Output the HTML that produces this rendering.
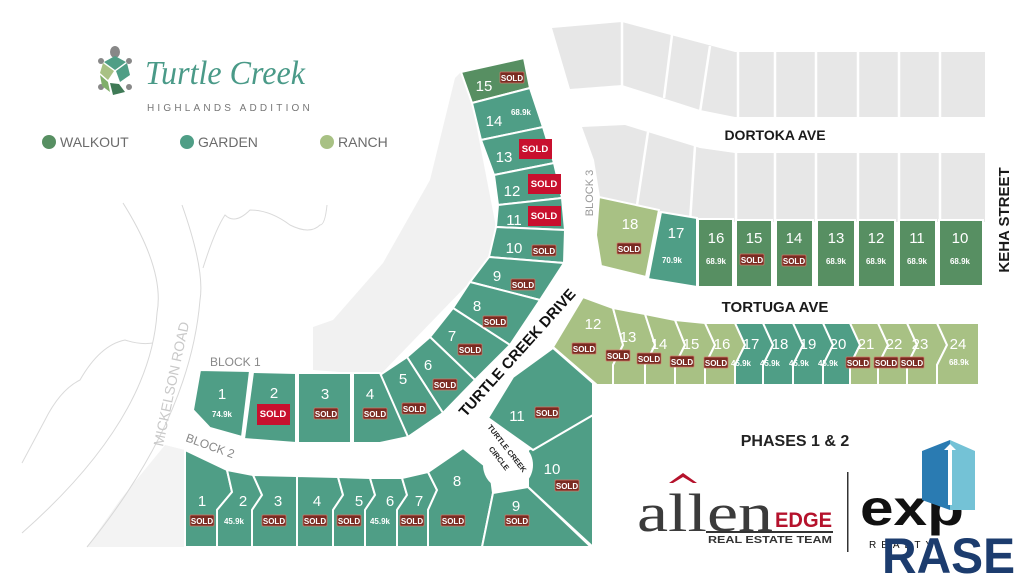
<!DOCTYPE html>
<html><head><meta charset="utf-8"><style>
html,body{margin:0;padding:0;background:#fff;}
svg{display:block;font-family:"Liberation Sans",sans-serif;}
.n{fill:#fff;font-size:15px;text-anchor:middle;}
.p{fill:#fff;font-size:8px;text-anchor:middle;font-weight:bold;}
.s{fill:#fff;font-size:8px;text-anchor:middle;font-weight:bold;}
.w{fill:#fff;font-size:9.5px;text-anchor:middle;font-weight:bold;}
.g{fill:#4f9e86;stroke:#fff;stroke-width:2;}
.k{fill:#578f62;stroke:#fff;stroke-width:2;}
.r{fill:#a8c184;stroke:#fff;stroke-width:2;}
</style></head><body>
<svg width="1024" height="580" viewBox="0 0 1024 580" xmlns="http://www.w3.org/2000/svg">
<defs>
<g id="sb"><rect x="-12" y="-6" width="24" height="11" rx="1" fill="#7a2b22" stroke="#d07a6a" stroke-width="0.7"/></g>
</defs>
<!-- background gray areas -->
<polygon points="455,78 461,72 472,103 496,227 489,257 470,282 380,375 313,370 313,327 333,320 383,263 430,180" fill="#f1f1f1"/>
<polygon points="87,547 185,547 185,450 165,445 120,500" fill="#f3f3f3"/>
<!-- mickelson lines -->
<path d="M123,203 Q165,270 157,313 Q150,420 22,533" fill="none" stroke="#d8d8d8" stroke-width="1"/>
<path d="M182,205 Q205,270 200,300 Q190,420 87,547" fill="none" stroke="#d8d8d8" stroke-width="1"/>
<path d="M203,268 Q215,230 225,215 Q235,225 250,210 Q270,210 290,225 Q310,235 320,225 Q325,225 327,205" fill="none" stroke="#dadada"/>
<path d="M153,343 Q140,345 125,340 Q100,345 80,380 Q60,390 45,420 L22,463" fill="none" stroke="#dadada"/>
<text x="0" y="0" transform="translate(176,385) rotate(-78)" fill="#c9c9c9" font-size="14" text-anchor="middle">MICKELSON ROAD</text>

<!-- gray top lots -->
<polygon points="552,28 622,22 735,52 985,52 985,117 735,117 700,110 622,85 570,89" fill="#e7e7e7"/>
<g stroke="#fff" stroke-width="2.5">
<line x1="622" y1="20" x2="622" y2="88"/><line x1="672" y1="35" x2="664" y2="98"/><line x1="710" y1="46" x2="700" y2="112"/><line x1="738" y1="52" x2="738" y2="118"/><line x1="775" y1="52" x2="775" y2="118"/><line x1="816" y1="52" x2="816" y2="118"/><line x1="858" y1="52" x2="858" y2="118"/><line x1="899" y1="52" x2="899" y2="118"/><line x1="940" y1="52" x2="940" y2="118"/>
</g>
<polygon points="582,127 625,125 700,148 735,153 985,153 985,222 697,222 660,212 600,197 594,160" fill="#e7e7e7"/>
<g stroke="#fff" stroke-width="2.5">
<line x1="648" y1="132" x2="637" y2="205"/><line x1="695" y1="146" x2="690" y2="222"/><line x1="736" y1="153" x2="736" y2="222"/><line x1="775" y1="153" x2="775" y2="222"/><line x1="816" y1="153" x2="816" y2="222"/><line x1="858" y1="153" x2="858" y2="222"/><line x1="899" y1="153" x2="899" y2="222"/><line x1="940" y1="153" x2="940" y2="222"/>
</g>

<!-- column lots -->
<polygon class="k" points="461,72 524,58 530,88 472,103"/>
<polygon class="g" points="472,103 530,88 543,127 481,140"/>
<polygon class="g" points="481,140 543,127 554,163 494,175"/>
<polygon class="g" points="494,175 554,163 562,198 498,205"/>
<polygon class="g" points="498,205 562,198 565,230 496,227"/>
<polygon class="g" points="496,227 565,230 564,263 489,257"/>
<polygon class="g" points="489,257 564,263 540,300 470,282"/>
<polygon class="g" points="470,282 540,300 510,345 453,308"/>
<polygon class="g" points="453,308 510,345 475,380 430,337"/>
<polygon class="g" points="430,337 475,380 443,413 407,357"/>
<polygon class="g" points="407,357 443,413 408,437 380,375"/>
<polygon class="g" points="353,373 380,373 408,437 380,443 353,443"/>
<polygon class="g" points="298,373 351,373 351,443 298,443"/>
<polygon class="g" points="253,372 296,373 296,443 244,439"/>
<polygon class="g" points="200,370 250,371 242,437 210,428 193,410"/>
<!-- block 2 -->
<polygon class="g" points="185,450 227,470 232,492 217,510 217,547 185,547"/>
<polygon class="g" points="227,470 253,475 262,495 252,510 252,547 217,547 217,510 232,492"/>
<polygon class="g" points="253,475 297,476 297,547 252,547 252,510 262,495"/>
<polygon class="g" points="297,476 338,477 343,495 333,510 333,547 297,547"/>
<polygon class="g" points="338,477 370,478 375,495 365,510 365,547 333,547 333,510 343,495"/>
<polygon class="g" points="370,478 402,478 407,495 397,510 397,547 365,547 365,510 375,495"/>
<polygon class="g" points="402,478 428,472 437,490 428,510 428,547 397,547 397,510 407,495"/>
<polygon class="g" points="428,472 463,448 490,470 493,493 482,547 428,547 428,510 437,490"/>
<polygon class="g" points="493,493 528,487 591,547 482,547"/>
<polygon class="g" points="528,450 593,415 593,547 528,487"/>
<polygon class="g" points="488,418 513,377 553,348 593,383 593,415 533,450"/>
<circle cx="508" cy="465" r="25" fill="#fff"/>

<!-- tortuga row -->
<polygon class="r" points="583,297 613,308 623,345 613,365 613,385 597,385 553,347"/>
<polygon class="r" points="613,308 645,314 655,345 645,365 645,385 613,385 613,365 623,345"/>
<polygon class="r" points="645,314 675,320 685,345 675,365 675,385 645,385 645,365 655,345"/>
<polygon class="r" points="675,320 705,323 715,345 705,365 705,385 675,385 675,365 685,345"/>
<polygon class="r" points="705,323 735,323 745,345 735,365 735,385 705,385 705,365 715,345"/>
<polygon class="g" points="735,323 763,323 773,345 763,365 763,385 735,385 735,365 745,345"/>
<polygon class="g" points="763,323 793,323 803,345 793,365 793,385 763,385 763,365 773,345"/>
<polygon class="g" points="793,323 823,323 833,345 823,365 823,385 793,385 793,365 803,345"/>
<polygon class="g" points="823,323 850,323 860,345 850,365 850,385 823,385 823,365 833,345"/>
<polygon class="r" points="850,323 878,323 888,345 878,365 878,385 850,385 850,365 860,345"/>
<polygon class="r" points="878,323 907,323 917,345 907,365 907,385 878,385 878,365 888,345"/>
<polygon class="r" points="907,323 937,323 947,345 937,365 937,385 907,385 907,365 917,345"/>
<polygon class="r" points="937,323 979,323 979,385 937,385 937,365 947,345"/>

<!-- block 3 row -->
<polygon class="r" points="599,197 659,210 646,277 601,266 596,235"/>
<polygon class="g" points="661,212 697,218 697,287 648,279"/>
<rect class="k" x="698" y="219" width="35" height="68"/>
<rect class="k" x="736" y="220" width="36" height="67"/>
<rect class="k" x="776" y="220" width="37" height="67"/>
<rect class="k" x="817" y="220" width="38" height="67"/>
<rect class="k" x="858" y="220" width="37" height="67"/>
<rect class="k" x="899" y="220" width="37" height="67"/>
<rect class="k" x="939" y="220" width="44" height="66"/>

<!-- numbers -->
<g class="n">
<text x="484" y="91" class="n">15</text><text x="494" y="126" class="n">14</text><text x="504" y="162" class="n">13</text><text x="512" y="196" class="n">12</text><text x="514" y="225" class="n">11</text><text x="514" y="253" class="n">10</text><text x="497" y="281" class="n">9</text><text x="477" y="311" class="n">8</text><text x="452" y="341" class="n">7</text><text x="428" y="370" class="n">6</text><text x="403" y="384" class="n">5</text><text x="370" y="399" class="n">4</text><text x="325" y="399" class="n">3</text><text x="274" y="398" class="n">2</text><text x="222" y="399" class="n">1</text>
<text x="202" y="506" class="n">1</text><text x="243" y="506" class="n">2</text><text x="278" y="506" class="n">3</text><text x="317" y="506" class="n">4</text><text x="359" y="506" class="n">5</text><text x="390" y="506" class="n">6</text><text x="419" y="506" class="n">7</text><text x="457" y="486" class="n">8</text><text x="516" y="511" class="n">9</text><text x="552" y="474" class="n">10</text><text x="517" y="421" class="n">11</text>
<text x="593" y="329" class="n">12</text><text x="628" y="342" class="n">13</text><text x="659" y="349" class="n">14</text><text x="691" y="349" class="n">15</text><text x="722" y="349" class="n">16</text><text x="751" y="349" class="n">17</text><text x="780" y="349" class="n">18</text><text x="808" y="349" class="n">19</text><text x="838" y="349" class="n">20</text><text x="866" y="349" class="n">21</text><text x="894" y="349" class="n">22</text><text x="920" y="349" class="n">23</text><text x="958" y="349" class="n">24</text>
<text x="630" y="229" class="n">18</text><text x="676" y="238" class="n">17</text><text x="716" y="243" class="n">16</text><text x="754" y="243" class="n">15</text><text x="794" y="243" class="n">14</text><text x="836" y="243" class="n">13</text><text x="876" y="243" class="n">12</text><text x="917" y="243" class="n">11</text><text x="960" y="243" class="n">10</text>
</g>

<!-- prices -->
<text x="521" y="115" class="p">68.9k</text>
<text x="222" y="417" class="p">74.9k</text>
<text x="234" y="524" class="p">45.9k</text><text x="380" y="524" class="p">45.9k</text>
<text x="741" y="366" class="p">45.9k</text><text x="770" y="366" class="p">45.9k</text><text x="799" y="366" class="p">45.9k</text><text x="828" y="366" class="p">45.9k</text><text x="959" y="365" class="p">68.9k</text>
<text x="672" y="263" class="p">70.9k</text><text x="716" y="264" class="p">68.9k</text><text x="836" y="264" class="p">68.9k</text><text x="876" y="264" class="p">68.9k</text><text x="917" y="264" class="p">68.9k</text><text x="960" y="264" class="p">68.9k</text>

<!-- brown sold badges -->
<g>
<use href="#sb" x="512" y="78"/><use href="#sb" x="544" y="251"/><use href="#sb" x="523" y="285"/><use href="#sb" x="495" y="322"/><use href="#sb" x="470" y="350"/><use href="#sb" x="445" y="385"/><use href="#sb" x="414" y="409"/><use href="#sb" x="375" y="414"/><use href="#sb" x="326" y="414"/>
<use href="#sb" x="202" y="521"/><use href="#sb" x="274" y="521"/><use href="#sb" x="315" y="521"/><use href="#sb" x="349" y="521"/><use href="#sb" x="412" y="521"/><use href="#sb" x="453" y="521"/><use href="#sb" x="517" y="521"/><use href="#sb" x="567" y="486"/><use href="#sb" x="547" y="413"/>
<use href="#sb" x="584" y="349"/><use href="#sb" x="618" y="356"/><use href="#sb" x="649" y="359"/><use href="#sb" x="682" y="362"/><use href="#sb" x="716" y="363"/><use href="#sb" x="858" y="363"/><use href="#sb" x="886" y="363"/><use href="#sb" x="912" y="363"/>
<use href="#sb" x="629" y="249"/><use href="#sb" x="752" y="260"/><use href="#sb" x="794" y="261"/>
</g>
<g class="s">
<text x="512" y="81" class="s">SOLD</text><text x="544" y="254" class="s">SOLD</text><text x="523" y="288" class="s">SOLD</text><text x="495" y="325" class="s">SOLD</text><text x="470" y="353" class="s">SOLD</text><text x="445" y="388" class="s">SOLD</text><text x="414" y="412" class="s">SOLD</text><text x="375" y="417" class="s">SOLD</text><text x="326" y="417" class="s">SOLD</text>
<text x="202" y="524" class="s">SOLD</text><text x="274" y="524" class="s">SOLD</text><text x="315" y="524" class="s">SOLD</text><text x="349" y="524" class="s">SOLD</text><text x="412" y="524" class="s">SOLD</text><text x="453" y="524" class="s">SOLD</text><text x="517" y="524" class="s">SOLD</text><text x="567" y="489" class="s">SOLD</text><text x="547" y="416" class="s">SOLD</text>
<text x="584" y="352" class="s">SOLD</text><text x="618" y="359" class="s">SOLD</text><text x="649" y="362" class="s">SOLD</text><text x="682" y="365" class="s">SOLD</text><text x="716" y="366" class="s">SOLD</text><text x="858" y="366" class="s">SOLD</text><text x="886" y="366" class="s">SOLD</text><text x="912" y="366" class="s">SOLD</text>
<text x="629" y="252" class="s">SOLD</text><text x="752" y="263" class="s">SOLD</text><text x="794" y="264" class="s">SOLD</text>
</g>
<!-- red sold -->
<rect x="519" y="139" width="33" height="20" fill="#c8102e"/><text x="535" y="152" class="w">SOLD</text>
<rect x="528" y="174" width="33" height="20" fill="#c8102e"/><text x="544" y="187" class="w">SOLD</text>
<rect x="528" y="206" width="33" height="20" fill="#c8102e"/><text x="544" y="219" class="w">SOLD</text>
<rect x="257" y="404" width="33" height="21" fill="#c8102e"/><text x="273" y="417" class="w">SOLD</text>

<!-- road labels -->
<text transform="translate(521,356) rotate(-48)" font-size="15" font-weight="bold" fill="#111" text-anchor="middle">TURTLE CREEK DRIVE</text>
<text transform="translate(505,450) rotate(52)" font-size="7.5" font-weight="bold" fill="#222" text-anchor="middle">TURTLE CREEK</text>
<text transform="translate(497,460) rotate(52)" font-size="7.5" font-weight="bold" fill="#222" text-anchor="middle">CIRCLE</text>
<text x="775" y="140" font-size="14" font-weight="bold" fill="#1a1a1a" text-anchor="middle">DORTOKA AVE</text>
<text x="775" y="312" font-size="15" font-weight="bold" fill="#1a1a1a" text-anchor="middle">TORTUGA AVE</text>
<text transform="translate(1009,220) rotate(-90)" font-size="15" font-weight="bold" fill="#1a1a1a" text-anchor="middle">KEHA STREET</text>
<text transform="translate(593,193) rotate(-90)" font-size="11" fill="#999" text-anchor="middle">BLOCK 3</text>
<text x="210" y="366" font-size="12" fill="#888">BLOCK 1</text>
<text transform="translate(185,441) rotate(20)" font-size="12" fill="#888">BLOCK 2</text>

<!-- logo -->
<g>
<ellipse cx="115" cy="52" rx="5" ry="6" fill="#888"/>
<circle cx="101" cy="61" r="3" fill="#888"/><circle cx="129" cy="61" r="3" fill="#888"/>
<circle cx="101" cy="87" r="3" fill="#888"/><circle cx="129" cy="87" r="3" fill="#888"/>
<polygon points="104,62 115,56 126,62 115,70" fill="#4f9e86"/>
<polygon points="103,63 114,71 108,80 100,73" fill="#a8c184"/>
<polygon points="127,63 130,75 120,82 116,71" fill="#4f9e86"/>
<polygon points="100,75 108,82 110,92 102,86" fill="#7fae6a"/>
<polygon points="110,83 119,84 125,92 113,95" fill="#3f7a56"/>
<text x="145" y="84" font-family="'Liberation Serif',serif" font-style="italic" font-size="34" fill="#4a9a88" textLength="160" lengthAdjust="spacingAndGlyphs">Turtle Creek</text>
<text x="147" y="111" font-size="10" fill="#777" letter-spacing="3.2">HIGHLANDS ADDITION</text>
</g>
<circle cx="49" cy="142" r="7" fill="#578f62"/><text x="60" y="147" font-size="14" fill="#6b6b6b">WALKOUT</text>
<circle cx="187" cy="142" r="7" fill="#4f9e86"/><text x="198" y="147" font-size="14" fill="#6b6b6b">GARDEN</text>
<circle cx="327" cy="142" r="7" fill="#a8c184"/><text x="338" y="147" font-size="14" fill="#6b6b6b">RANCH</text>

<!-- bottom right logos -->
<text x="795" y="446" font-size="16" font-weight="bold" fill="#222" text-anchor="middle">PHASES 1 &amp; 2</text>
<polygon points="683,473 697,483 693,483 683,477 673,483 669,483" fill="#b5122c"/>
<text x="637" y="531" font-family="'Liberation Serif',serif" font-size="54" fill="#3b3b3b" textLength="136" lengthAdjust="spacingAndGlyphs">allen</text>
<text x="775" y="527" font-size="21" font-weight="bold" fill="#b5122c" textLength="57" lengthAdjust="spacingAndGlyphs">EDGE</text>
<rect x="706" y="531" width="127" height="2" fill="#333"/>
<text x="708" y="543" font-size="10" font-weight="bold" fill="#333" textLength="124" lengthAdjust="spacingAndGlyphs">REAL ESTATE TEAM</text>
<rect x="847" y="472" width="1.5" height="80" fill="#333"/>
<text x="860" y="525" font-size="50" font-weight="bold" fill="#111" textLength="104" lengthAdjust="spacingAndGlyphs">exp</text>
<text x="869" y="548" font-size="10" fill="#111" letter-spacing="5">REALTY</text>
<polygon points="922,451 950,440 950,510 922,500" fill="#2a7bb2"/>
<polygon points="950,440 975,451 975,510 950,510" fill="#74c2d6"/>
<polygon points="944,450 950,444 956,450 952,450 952,505 948,505 948,450" fill="#fff"/>
<text x="882" y="573" font-size="50" font-weight="bold" fill="#1c3c6e" textLength="133" lengthAdjust="spacingAndGlyphs">RASE</text>
</svg>
</body></html>
